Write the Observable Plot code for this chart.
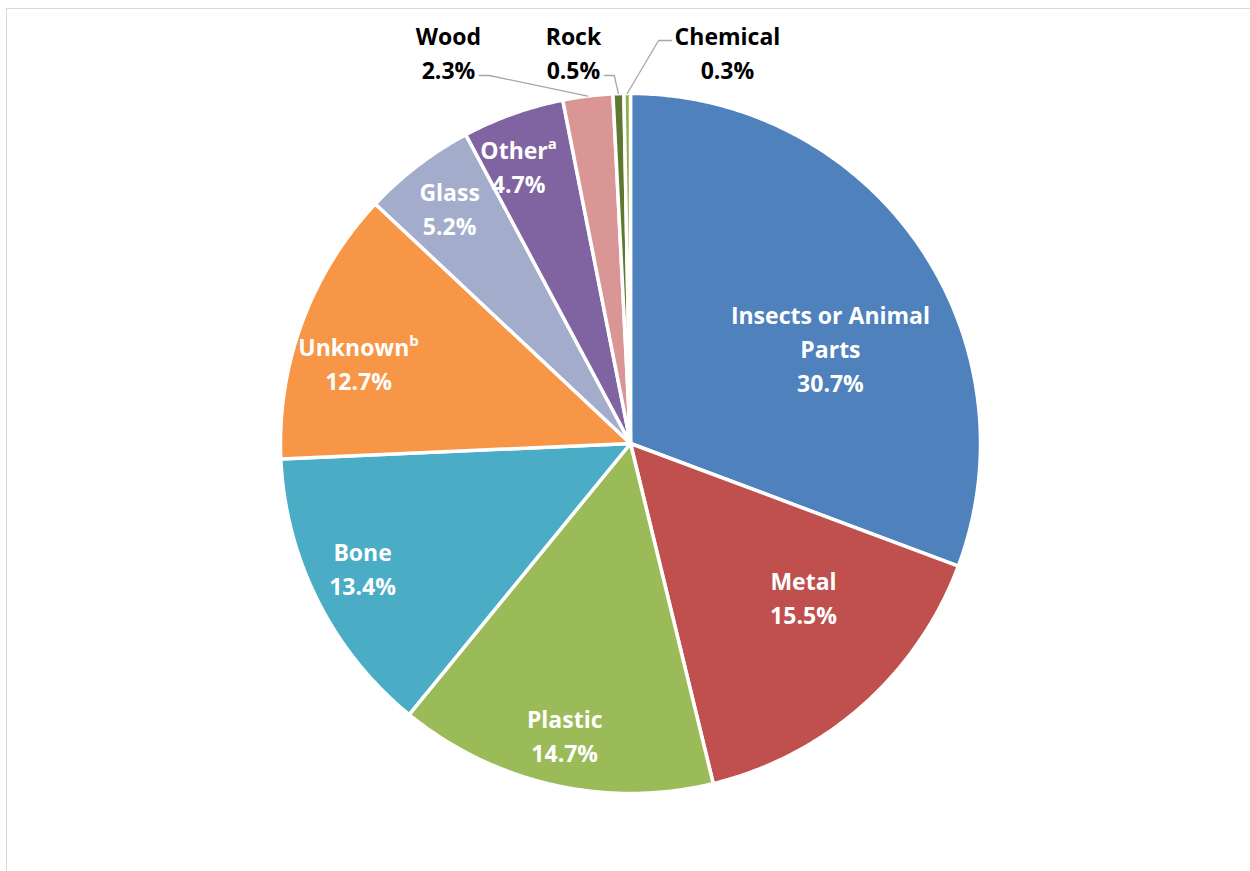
<!DOCTYPE html>
<html><head><meta charset="utf-8">
<script src="https://cdn.jsdelivr.net/npm/d3@7"></script>
<script src="https://cdn.jsdelivr.net/npm/@observablehq/plot@0.6"></script>
<style>
html,body{margin:0;padding:0;background:#fff;overflow:hidden;}
#wrap{position:relative;width:1250px;height:871px;}
#frame{position:absolute;left:6px;top:8px;width:1400px;height:1000px;border-left:1.5px solid #d9d9d9;border-top:1.5px solid #d9d9d9;pointer-events:none;}
</style></head><body><div id="wrap"><div id="chart"></div><div id="frame"></div></div>
<script>
// ---- data ----
const categories = ["Insects or Animal Parts","Metal","Plastic","Bone","Unknown","Glass","Other","Wood","Rock","Chemical"];
const labelNames = ["Insects or Animal\nParts","Metal","Plastic","Bone","Unknown^b","Glass","Other^a","Wood","Rock","Chemical"];
const values = [30.7, 15.5, 14.7, 13.4, 12.7, 5.2, 4.7, 2.3, 0.5, 0.3];
const colors = ["#4F81BD","#C0504D","#9BBB59","#4BACC6","#F79646","#A3ACCB","#8064A2","#D99694","#5E782F","#8DB04A"];

// ---- layout (radius units / pixels) ----
const W = 1250, H = 871, CX = 630, CY = 443, R = 350;
const outsideLabelX = {"Wood": -0.52, "Rock": -0.163, "Chemical": 0.277};
const outsideLabelY = 1.12;
// pixel nudges for inside labels (Excel best-fit placement)
const labelNudge = {"Insects or Animal Parts": [13, 33], "Metal": [22, -18], "Unknown": [7, 22], "Bone": [-2, -10], "Other": [-12, 2]};
const fontSize = 23, lineH = 34 / 23;
const fontName = "Open Sans";
const font = "'Open Sans', Lato, sans-serif";

const total = d3.sum(values);
let acc = 0;
const slices = categories.map((c, i) => {
  const a0 = acc / total * 2 * Math.PI; acc += values[i];
  const a1 = acc / total * 2 * Math.PI;
  return {name: c, label: labelNames[i], value: values[i], a0, a1, mid: (a0 + a1) / 2};
});

const piePts = slices.flatMap(s => {
  const n = Math.max(2, Math.ceil((s.a1 - s.a0) / (Math.PI / 360)));
  const pts = [{name: s.name, x: 0, y: 0}];
  for (let k = 0; k <= n; k++) {
    const a = s.a0 + (s.a1 - s.a0) * k / n;
    pts.push({name: s.name, x: Math.sin(a), y: Math.cos(a)});
  }
  pts.push({name: s.name, x: 0, y: 0});
  return pts;
});

const pct = v => v.toFixed(1) + "%";
const inside = slices.filter(s => !(s.name in outsideLabelX)).map(s => {
  const f = s.value >= 15 ? 0.65 : 0.85;
  const [nx, ny] = labelNudge[s.name] || [0, 0];
  return {text: s.label + "\n" + pct(s.value), x: f * Math.sin(s.mid) + nx / R, y: f * Math.cos(s.mid) - ny / R};
});
const outside = slices.filter(s => s.name in outsideLabelX).map(s => ({
  s, text: s.label + "\n" + pct(s.value), x: outsideLabelX[s.name], y: outsideLabelY
}));

// leader lines
const ctx = document.createElement("canvas").getContext("2d");
ctx.font = `bold ${fontSize}px "${fontName}"`;
const toData = (px, py) => ({x: (px - CX) / R, y: (CY - py) / R});
const leaders = outside.flatMap(o => {
  const lx = CX + o.x * R, ly = CY - o.y * R;
  const lines = o.text.split("\n");
  const l1 = ly - fontSize * lineH / 2, l2 = ly + fontSize * lineH / 2;
  const px = CX + Math.sin(o.s.mid) * R, py = CY - Math.cos(o.s.mid) * R;
  let pts;
  if (lx < px) {
    const w = ctx.measureText(lines[1]).width;
    const sx = lx + w / 2 + 4, sy = l2 + 7;
    pts = [[sx, sy], [sx + 10, sy], [px, py]];
  } else {
    const w = ctx.measureText(lines[0]).width;
    const sx = lx - w / 2 - 3, sy = l1 + 6;
    pts = [[sx, sy], [sx - 13, sy], [px, py]];
  }
  return pts.map(([a, b]) => ({name: o.s.name, ...toData(a, b)}));
});

const plot = Plot.plot({
  width: W, height: H,
  margin: 0,
  x: {domain: [-CX / R, (W - CX) / R], axis: null},
  y: {domain: [-(H - CY) / R, CY / R], axis: null},
  color: {domain: categories, range: colors},
  style: {fontFamily: font, background: "transparent"},
  marks: [
    Plot.line(piePts, {x: "x", y: "y", z: "name", fill: "name", stroke: "white", strokeWidth: 3.5, strokeLinejoin: "round", curve: "linear"}),
    Plot.line(leaders, {x: "x", y: "y", z: "name", stroke: "#a6a6a6", strokeWidth: 1.3}),
    Plot.text(inside, {x: "x", y: "y", text: "text", fill: "white", fontWeight: "bold", fontSize, lineHeight: lineH}),
    Plot.text(outside, {x: "x", y: "y", text: "text", fill: "black", fontWeight: "bold", fontSize, lineHeight: lineH})
  ]
});

plot.querySelectorAll("tspan, text").forEach(t => {
  if (t.children.length) return;
  const m = t.textContent.match(/^(.*)\^(\w)$/);
  if (m) {
    t.textContent = m[1];
    const s = document.createElementNS("http://www.w3.org/2000/svg", "tspan");
    s.setAttribute("baseline-shift", "super");
    s.setAttribute("font-size", "15");
    s.textContent = m[2];
    t.appendChild(s);
  }
});
document.getElementById("chart").appendChild(plot);
</script>
</body></html>
